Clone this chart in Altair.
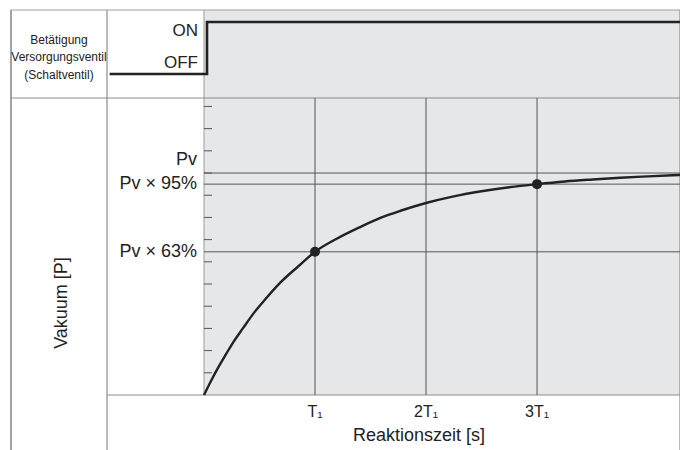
import altair as alt
import pandas as pd

# ---- data ----
t_vals = [0, 0.07, 0.135, 0.2, 0.26, 0.35, 0.45, 0.55, 0.685, 0.85, 1.0, 1.2, 1.4, 1.6,
          1.77, 2.0, 2.25, 2.5, 2.75, 3.0, 3.25, 3.5, 3.75, 4.0, 4.29]
p_vals = [0, 0.07, 0.13, 0.185, 0.235, 0.3, 0.37, 0.43, 0.505, 0.58, 0.645, 0.705, 0.755, 0.8,
          0.83, 0.865, 0.895, 0.918, 0.936, 0.95, 0.962, 0.971, 0.979, 0.985, 0.991]
marker_t = [1, 3]
marker_p = [0.645, 0.95]
grid_t = [1, 2, 3]
x_tick_labels = ["T\u2081", "2T\u2081", "3T\u2081"]
level_p = [1.0, 0.95, 0.645]
level_labels = ["Pv", "Pv \u00d7 95%", "Pv \u00d7 63%"]
minor_ticks = [0.1, 0.2, 0.3, 0.4, 0.5, 0.6, 0.7, 0.8, 0.9, 1.0, 1.1, 1.2, 1.3]
step_t = [-0.85, 0.027, 0.027, 4.29]
step_state = [0, 0, 1, 1]
state_labels = ["ON", "OFF"]
row_header = ["Betätigung", "Versorgungsventil", "(Schaltventil)"]
y_title = "Vakuum [P]"
x_title = "Reaktionszeit [s]"

T_MAX = 4.288
P_MAX = 1.338
W, H = 476, 297
FONT = "Liberation Sans"
INK = "#222222"
FRAME = "#8c8c8c"
FILL = "#e6e7e8"

xs = alt.Scale(domain=[0, T_MAX], nice=False, zero=False)
ys = alt.Scale(domain=[0, P_MAX], nice=False, zero=False)

curve_df = pd.DataFrame({"t": t_vals, "p": p_vals})
marker_df = pd.DataFrame({"t": marker_t, "p": marker_p})
grid_df = pd.DataFrame({"t": grid_t, "label": x_tick_labels})
level_df = pd.DataFrame({"p": level_p, "label": level_labels, "i": [0, 1, 2]})
minor_df = pd.DataFrame({"p": minor_ticks})
step_df = pd.DataFrame({"t": step_t, "s": step_state})


def frame_rule(x1, x2, y1, y2, color=FRAME, w=1.2):
    return alt.Chart(pd.DataFrame({"k": [0]})).mark_rule(color=color, strokeWidth=w).encode(
        x=alt.value(x1), x2=alt.value(x2), y=alt.value(y1), y2=alt.value(y2)
    )


top_fill = alt.Chart(pd.DataFrame({"k": [0]})).mark_rect(color=FILL).encode(
    x=alt.value(0), x2=alt.value(W), y=alt.value(-88), y2=alt.value(0)
)

frames = [
    frame_rule(-193, W, -88, -88, "#a0a0a0"),      # top border
    frame_rule(-193, -193, -88, H + 70, "#666666"),  # left border
    frame_rule(-97, -97, -88, H + 70),              # column divider
    frame_rule(0, 0, -88, H, "#9a9a9a", 1),         # plot left edge
    frame_rule(W, W, -88, H + 70),                  # right border
    frame_rule(-193, W, 0, 0),                      # row divider
    frame_rule(-97, W, H, H),                       # x axis line
]

grid = alt.Chart(grid_df).mark_rule(color="#555555", strokeWidth=1).encode(
    x=alt.X("t:Q", scale=xs, axis=None), y=alt.value(0), y2=alt.value(H)
)
grid_labels = alt.Chart(grid_df).mark_text(font=FONT, fontSize=16, color=INK, baseline="middle").encode(
    x=alt.X("t:Q", scale=xs, axis=None), y=alt.value(314), text="label:N"
)

levels = alt.Chart(level_df).mark_rule(color="#555555", strokeWidth=1).encode(
    y=alt.Y("p:Q", scale=ys, axis=None), x=alt.value(0), x2=alt.value(W)
)
pv_label = alt.Chart(level_df).transform_filter("datum.i == 0").mark_text(
    font=FONT, fontSize=18, color=INK, align="right", baseline="middle", dy=-13
).encode(y=alt.Y("p:Q", scale=ys, axis=None), x=alt.value(-7), text="label:N")
pct_labels = alt.Chart(level_df).transform_filter("datum.i > 0").mark_text(
    font=FONT, fontSize=18, color=INK, align="right", baseline="middle"
).encode(y=alt.Y("p:Q", scale=ys, axis=None), x=alt.value(-7), text="label:N")

minor = alt.Chart(minor_df).mark_rule(color="#555555", strokeWidth=1).encode(
    y=alt.Y("p:Q", scale=ys, axis=None), x=alt.value(0), x2=alt.value(8)
)

curve = alt.Chart(curve_df).mark_line(color=INK, strokeWidth=2.4, interpolate="monotone").encode(
    x=alt.X("t:Q", scale=xs, axis=None), y=alt.Y("p:Q", scale=ys, axis=None)
)
dots = alt.Chart(marker_df).mark_circle(color=INK, opacity=1, size=100).encode(
    x=alt.X("t:Q", scale=xs, axis=None), y=alt.Y("p:Q", scale=ys, axis=None)
)

step = alt.Chart(step_df).mark_line(color=INK, strokeWidth=2.6).encode(
    x=alt.X("t:Q", scale=xs, axis=None),
    y=alt.Y("s:Q", scale=alt.Scale(domain=[0, 1], range=[-24, -76], nice=False, zero=False), axis=None),
    order="index:Q",
).transform_window(index="row_number()")

state_text = alt.Chart(pd.DataFrame({"label": state_labels, "yy": [-67, -35]})).mark_text(
    font=FONT, fontSize=17, color=INK, align="right", baseline="middle"
).encode(x=alt.value(-6), y=alt.Y("yy:Q", scale=None), text="label:N")

header_text = alt.Chart(pd.DataFrame({"label": row_header, "yy": [-58, -41, -23]})).mark_text(
    font=FONT, fontSize=12, color=INK, align="center", baseline="middle"
).encode(x=alt.value(-145), y=alt.Y("yy:Q", scale=None), text="label:N")

ytitle = alt.Chart(pd.DataFrame({"label": [y_title]})).mark_text(
    font=FONT, fontSize=18, color=INK, align="center", baseline="middle", angle=270
).encode(x=alt.value(-142), y=alt.value(205), text="label:N")

xtitle = alt.Chart(pd.DataFrame({"label": [x_title]})).mark_text(
    font=FONT, fontSize=18, color=INK, align="center", baseline="middle"
).encode(x=alt.value(215), y=alt.value(338), text="label:N")

chart = alt.layer(
    top_fill, *frames, grid, levels, minor, curve, dots, step,
    grid_labels, pv_label, pct_labels, state_text, header_text, ytitle, xtitle
).resolve_scale(y="independent").properties(
    width=W, height=H,
    padding={"left": 196, "top": 90, "right": 0, "bottom": 56},
    autosize=alt.AutoSizeParams(type="none"),
    background="white",
).configure_view(fill=FILL, stroke=None)

chart.save("out.html", embed_options={"renderer": "svg", "actions": False})
